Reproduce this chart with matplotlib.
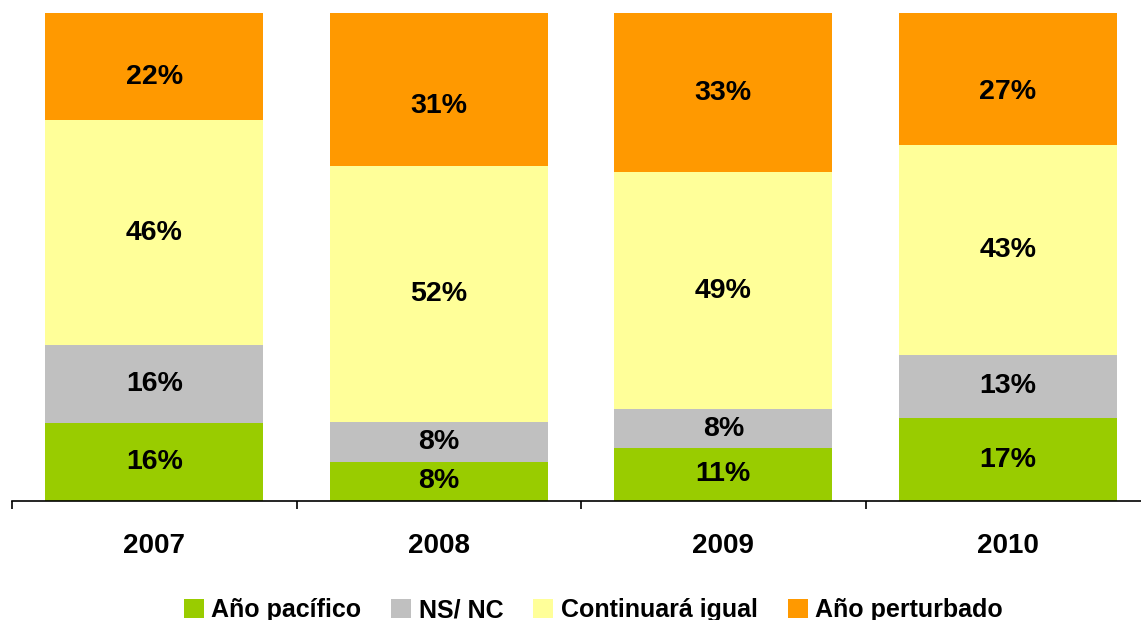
import numpy as np
import matplotlib
matplotlib.use("Agg")
import matplotlib.pyplot as plt
from matplotlib.patches import Patch
from matplotlib import transforms

plt.rcParams['font.family'] = ['Liberation Sans', 'DejaVu Sans']

years = ["2007", "2008", "2009", "2010"]
series = ["Año pacífico", "NS/ NC", "Continuará igual", "Año perturbado"]
pacifico = [16, 8, 11, 17]
nsnc = [16, 8, 8, 13]
igual = [46, 52, 49, 43]
perturbado = [22, 31, 33, 27]
colors = ["#99CC00", "#C0C0C0", "#FFFF99", "#FF9900"]

# top labels sit a bit lower than the segment centre in the original (pixels)
top_label_shift = [-10, -17, 0, -13]

values = np.array([pacifico, nsnc, igual, perturbado], dtype=float)
shares = values / values.sum(axis=0) * 100

fig = plt.figure(figsize=(11.41, 6.2), dpi=100)
ax = fig.add_axes([12 / 1141, 119 / 620, 1138 / 1141, 488 / 620])

x = np.arange(len(years))
bottom = np.zeros(len(years))
for i in range(len(series)):
    ax.bar(x, shares[i], 0.766, bottom=bottom, color=colors[i], edgecolor="none")
    for j in range(len(years)):
        dy = top_label_shift[j] if i == len(series) - 1 else 0
        off = transforms.offset_copy(ax.transData, fig=fig, x=0, y=dy, units="dots")
        ax.text(x[j], bottom[j] + shares[i][j] / 2, "%d%%" % values[i][j],
                ha="center", va="center", fontsize=20.5, fontweight="bold",
                color="black", transform=off)
    bottom += shares[i]

ax.set_xlim(-0.5, len(years) - 0.5)
ax.set_ylim(0, 100)
for s in ["top", "right", "left"]:
    ax.spines[s].set_visible(False)
ax.spines["bottom"].set_linewidth(1.2)
ax.set_yticks([])
ax.set_xticks(x)
ax.set_xticklabels(years, fontsize=20, fontweight="bold")
ax.set_xticks(np.arange(-0.5, len(years)), minor=True)
ax.tick_params(axis="x", which="major", length=0, pad=23)
ax.tick_params(axis="x", which="minor", length=6, width=1.2, direction="out")

handles = [Patch(facecolor=c, edgecolor="none") for c in colors]
fig.legend(handles, series, loc="center", bbox_to_anchor=(0.52, 0.016), ncol=4,
           frameon=False, prop={"size": 18, "weight": "bold"},
           handlelength=0.8, handleheight=0.8, handletextpad=0.3,
           columnspacing=1.2, borderaxespad=0)

fig.savefig("out.png", dpi=100)
